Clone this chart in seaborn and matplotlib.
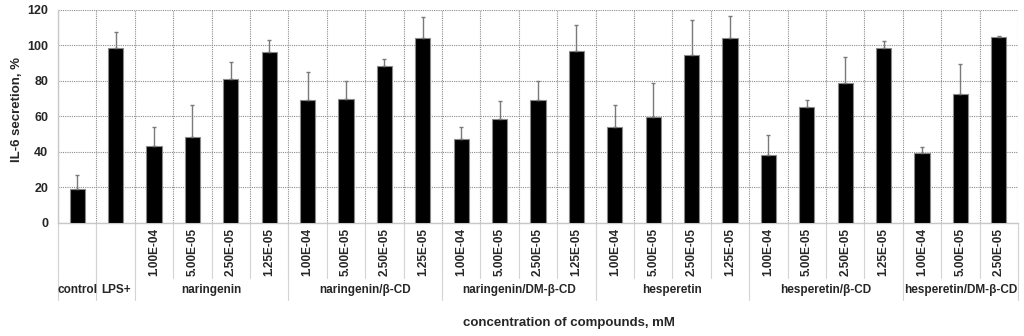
import numpy as np
import pandas as pd
import matplotlib
matplotlib.use("Agg")
import matplotlib.pyplot as plt
import matplotlib.transforms as mtransforms
import seaborn as sns

# ---- data ----
group_labels = ["control", "LPS+", "naringenin", "naringenin/β-CD", "naringenin/DM-β-CD",
                "hesperetin", "hesperetin/β-CD", "hesperetin/DM-β-CD"]
group_sizes = [1, 1, 4, 4, 4, 4, 4, 3]
conc_labels = ["", "",
               "1.00E-04", "5.00E-05", "2.50E-05", "1.25E-05",
               "1.00E-04", "5.00E-05", "2.50E-05", "1.25E-05",
               "1.00E-04", "5.00E-05", "2.50E-05", "1.25E-05",
               "1.00E-04", "5.00E-05", "2.50E-05", "1.25E-05",
               "1.00E-04", "5.00E-05", "2.50E-05", "1.25E-05",
               "1.00E-04", "5.00E-05", "2.50E-05"]
secretion = [18.8, 98.7,
             43.3, 48.5, 80.9, 96.1,
             69.0, 69.8, 88.2, 104.0,
             47.4, 58.5, 69.2, 97.0,
             53.8, 59.6, 94.4, 104.0,
             38.0, 65.4, 78.8, 98.4,
             39.1, 72.4, 104.5]
sd = [8.1, 9.1,
      10.7, 18.1, 9.8, 6.8,
      16.0, 10.2, 4.0, 12.0,
      6.6, 10.2, 10.8, 14.4,
      12.4, 19.2, 20.0, 12.4,
      11.6, 3.8, 14.5, 4.1,
      3.8, 17.3, 0.7]

bar_group = [g for g, n in zip(group_labels, group_sizes) for _ in range(n)]
bar_id = [f"{g}|{c}|{i}" for i, (g, c) in enumerate(zip(bar_group, conc_labels))]
df = pd.DataFrame({"bar": bar_id, "value": secretion, "sd": sd})

# ---- style ----
sns.set_theme(style="white")
plt.rcParams['font.family'] = ['Liberation Sans', 'DejaVu Sans']
plt.rcParams['font.weight'] = 'bold'

fig = plt.figure(figsize=(10.24, 3.36), dpi=100)
ax = fig.add_axes([58 / 1024, 1 - 222.7 / 336, (1018 - 58) / 1024, (222.7 - 10) / 336])

sns.barplot(data=df, x="bar", y="value", order=bar_id, color="black", width=0.4,
            edgecolor="#8a8a8a", linewidth=0.8, errorbar=None, ax=ax, zorder=3)
xpos = np.arange(len(bar_id))
ax.errorbar(xpos, df["value"], yerr=[np.zeros(len(sd)), df["sd"]], fmt="none",
            ecolor="#7a7a7a", elinewidth=1.0, capsize=1.5, capthick=1.0, zorder=4)

ax.set_xlim(-0.5, len(bar_id) - 0.5)
ax.set_ylim(0, 120)
ax.set_yticks(np.arange(0, 121, 20))
ax.set_yticklabels([str(v) for v in range(0, 121, 20)], fontsize=9, fontweight="bold")
ax.set_xticks(xpos)
ax.set_xticklabels(conc_labels, rotation=90, fontsize=8.5, fontweight="bold")
ax.set_xticks(np.arange(-0.5, len(bar_id), 1), minor=True)
ax.tick_params(axis="both", which="both", length=0)
ax.tick_params(axis="y", pad=7)
ax.tick_params(axis="x", pad=4)
ax.set_xlabel("")
ax.set_ylabel("")

ax.grid(False)
ax.grid(which="minor", axis="x", linestyle=(0, (1, 1)), color="#8c8c8c", linewidth=0.8, zorder=0)
ax.grid(which="major", axis="y", linestyle=(0, (1, 1)), color="#8c8c8c", linewidth=0.8, zorder=0)
ax.set_axisbelow(True)
for s in ["top", "right"]:
    ax.spines[s].set_visible(False)
for s in ["left", "bottom"]:
    ax.spines[s].set_color("#c8c8c8")
    ax.spines[s].set_linewidth(1.0)

# separator lines under the axis
trans = mtransforms.blended_transform_factory(ax.transData, ax.transAxes)
bounds = np.arange(-0.5, len(bar_id), 1)
group_edges = np.concatenate([[0], np.cumsum(group_sizes)]) - 0.5
for b in bounds:
    ax.plot([b, b], [0, -0.26], transform=trans, color="#d4d4d4", lw=0.8, clip_on=False)
for b in group_edges:
    ax.plot([b, b], [0, -0.363], transform=trans, color="#d4d4d4", lw=0.8, clip_on=False)

# group labels
for g, lo, hi in zip(group_labels, group_edges[:-1], group_edges[1:]):
    ax.text((lo + hi) / 2, -0.316, g, transform=trans, ha="center", va="center",
            fontsize=8.5, fontweight="bold")

fig.text(17 / 1024, 1 - 110 / 336, "IL-6 secretion, %", rotation=90, ha="center", va="center",
         fontsize=9.5, fontweight="bold")
fig.text(569 / 1024, 1 - 323 / 336, "concentration of compounds, mM", ha="center", va="center",
         fontsize=9.5, fontweight="bold")

fig.savefig("out.png", dpi=100)
